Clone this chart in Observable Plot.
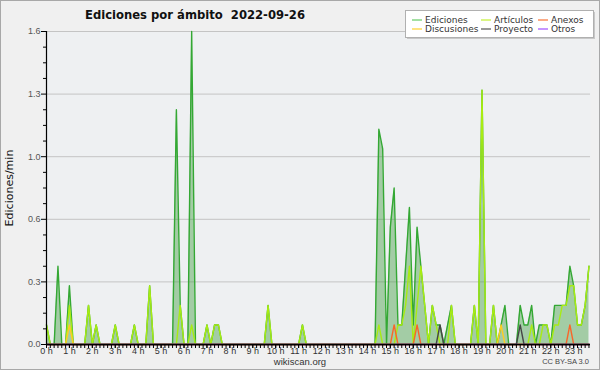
<!DOCTYPE html>
<html><head><meta charset="utf-8">
<script src="https://cdn.jsdelivr.net/npm/d3@7"></script>
<script src="https://cdn.jsdelivr.net/npm/@observablehq/plot@0.6"></script>
<style>
body{margin:0;background:#f0f0f0;}
#chart{width:600px;height:370px;}
</style></head><body><div id="chart"></div>
<script>
const titleText = "Ediciones por ámbito  2022-09-26";
const yLabelText = "Ediciones/min";
const footerText = "wikiscan.org";
const licenseText = "CC BY-SA 3.0";
const seriesNames = ["Ediciones","Artículos","Anexos","Discusiones","Proyecto","Otros"];
const seriesColors = ["#34a834","#a8ec12","#f8662a","#ffcc22","#464646","#9a44ff"];
const legendColors = ["#66cc66","#c4f032","#f87438","#ffd030","#555555","#a050ff"];
const hourLabels = ["0 h","1 h","2 h","3 h","4 h","5 h","6 h","7 h","8 h","9 h","10 h","11 h","12 h","13 h","14 h","15 h","16 h","17 h","18 h","19 h","20 h","21 h","22 h","23 h"];
const yTickValues = [0, 0.32, 0.64, 0.96, 1.28, 1.6];
const yMinorTicks = [0.08,0.16,0.24,0.40,0.48,0.56,0.72,0.80,0.88,1.04,1.12,1.20,1.36,1.44,1.52];
const binMinutes = 10;

// 10-minute bins, edits per minute (bins 0 .. 142)
const ediciones = [
0.1,0,0,0.4,0,0,0.3,0,0,0,
0,0.2,0,0.1,0,0,0,0,0.1,0,
0,0,0,0.1,0,0,0,0.3,0,0,
0,0,0,0,1.2,0.2,0,0,1.6,0,
0,0,0.1,0,0.1,0.1,0,0,0,0,
0,0,0,0,0,0,0,0,0.2,0,
0,0,0,0,0,0,0,0.1,0,0,
0,0,0,0,0,0,0,0,0,0,
0,0,0,0,0,0,0,1.1,1.0,0,
0.6,0.8,0.1,0.1,0.4,0.7,0.1,0.6,0.4,0.2,
0,0.2,0.1,0.1,0,0.1,0.2,0,0,0,
0,0,0.2,0,1.3,0,0,0.2,0,0.1,
0.2,0,0,0,0.2,0.1,0.1,0.2,0,0.1,
0.1,0.1,0,0.2,0.2,0.2,0.2,0.4,0.3,0.1,
0.1,0.2,0.4];
const articulos = [
0.1,0,0,0,0,0,0.2,0,0,0,
0,0.2,0,0.1,0,0,0,0,0.1,0,
0,0,0,0.1,0,0,0,0.3,0,0,
0,0,0,0,0,0.2,0,0,0.1,0,
0,0,0.1,0,0.1,0.1,0,0,0,0,
0,0,0,0,0,0,0,0,0.2,0,
0,0,0,0,0,0,0,0.1,0,0,
0,0,0,0,0,0,0,0,0,0,
0,0,0,0,0,0,0,0.1,0,0,
0,0,0.1,0.1,0.2,0.4,0,0.2,0.4,0.2,
0,0.2,0.1,0,0,0,0.2,0,0,0,
0,0,0.2,0,1.3,0,0,0.2,0,0,
0,0,0,0,0,0,0,0.1,0,0,
0.1,0.1,0,0.1,0.1,0.2,0.2,0.3,0.3,0.1,
0.1,0.2,0.4];
const anexos = [
0,0,0,0,0,0,0,0,0,0,
0,0,0,0,0,0,0,0,0,0,
0,0,0,0,0,0,0,0,0,0,
0,0,0,0,0,0,0,0,0,0,
0,0,0,0,0,0,0,0,0,0,
0,0,0,0,0,0,0,0,0,0,
0,0,0,0,0,0,0,0,0,0,
0,0,0,0,0,0,0,0,0,0,
0,0,0,0,0,0,0,0,0,0,
0,0.1,0,0,0,0,0,0.1,0,0,
0,0,0,0,0,0,0,0,0,0,
0,0,0,0,0,0,0,0,0,0,
0,0,0,0,0,0,0,0,0,0,
0,0,0,0,0,0,0,0.1,0,0,
0,0,0];
const discusiones = [
0,0,0,0,0,0,0.1,0,0,0,
0,0,0,0,0,0,0,0,0,0,
0,0,0,0,0,0,0,0,0,0,
0,0,0,0,0,0,0,0,0,0,
0,0,0,0,0,0,0,0,0,0,
0,0,0,0,0,0,0,0,0,0,
0,0,0,0,0,0,0,0,0,0,
0,0,0,0,0,0,0,0,0,0,
0,0,0,0,0,0,0,0,0,0,
0,0,0,0,0,0,0,0,0,0,
0,0,0,0,0,0,0,0,0,0,
0,0,0,0,0,0,0,0,0,0.1,
0,0,0,0,0,0,0,0,0,0,
0,0,0,0,0,0,0,0,0,0,
0,0,0];
const proyecto = [
0,0,0,0,0,0,0,0,0,0,
0,0,0,0,0,0,0,0,0,0,
0,0,0,0,0,0,0,0,0,0,
0,0,0,0,0,0,0,0,0,0,
0,0,0,0,0,0,0,0,0,0,
0,0,0,0,0,0,0,0,0,0,
0,0,0,0,0,0,0,0,0,0,
0,0,0,0,0,0,0,0,0,0,
0,0,0,0,0,0,0,0,0,0,
0,0,0,0,0,0,0,0,0,0,
0,0,0,0.1,0,0,0,0,0,0,
0,0,0,0,0,0,0,0,0,0,
0,0,0,0,0.1,0,0,0,0,0,
0,0,0,0,0,0,0,0,0,0,
0,0,0];
const otros = [
0,0,0,0,0,0,0,0,0,0,
0,0,0,0,0,0,0,0,0,0,
0,0,0,0,0,0,0,0,0,0,
0,0,0,0,0,0,0,0,0,0,
0,0,0,0,0,0,0,0,0,0,
0,0,0,0,0,0,0,0,0,0,
0,0,0,0,0,0,0,0,0,0,
0,0,0,0,0,0,0,0,0,0,
0,0,0,0,0,0,0,0,0,0,
0,0,0,0,0,0,0,0,0,0,
0,0,0,0,0,0,0,0,0,0,
0,0,0,0,0,0,0,0,0,0,
0,0,0,0,0,0,0,0,0,0,
0,0,0,0,0,0,0,0,0,0,
0,0,0];

const seriesValues = [ediciones, articulos, anexos, discusiones, proyecto, otros];
const rows = seriesValues.flatMap((vals, k) =>
  vals.map((v, i) => ({t: i * binMinutes / 60, v, s: seriesNames[k]})));
const totalRows = rows.filter(d => d.s === seriesNames[0]);

const xMax = 142.4 * binMinutes / 60;
const minorX = d3.range(0, 143).map(i => i * binMinutes / 60);
const hourTicks = hourLabels.map((_, h) => h);

const svg = Plot.plot({
  width: 600, height: 370,
  marginLeft: 46, marginRight: 10, marginTop: 31, marginBottom: 26,
  style: {background: "transparent", fontFamily: "Liberation Sans, sans-serif", fontSize: "9px", color: "#444"},
  x: {domain: [0, xMax]},
  y: {domain: [0, 1.6]},
  color: {domain: seriesNames, range: seriesColors},
  marks: [
    Plot.frame({fill: "#eef0f2", stroke: null}),
    Plot.gridY(yTickValues.slice(1), {stroke: "#c4c4c4", strokeOpacity: 1}),
    Plot.areaY(totalRows, {x: "t", y: "v", fill: "#3c9c3c", fillOpacity: 0.42}),
    Plot.line(rows, {x: "t", y: "v", z: "s", stroke: "s", strokeWidth: 1.4}),
    Plot.ruleY([0], {stroke: "#000", strokeWidth: 1.6}),
    Plot.ruleX([0], {stroke: "#000", strokeWidth: 1.2}),
    Plot.axisY({ticks: yTickValues, tickFormat: d3.format(".1f"), tickSize: 5, tickPadding: 1, label: null, stroke: "#000", fill: "#555"}),
    Plot.axisY({ticks: yMinorTicks, tickFormat: () => "", tickSize: 3, label: null, stroke: "#000"}),
    Plot.axisX({ticks: minorX, tickFormat: () => "", tickSize: 4, label: null, stroke: "#000"}),
    Plot.axisX({ticks: hourTicks, tickFormat: d => hourLabels[d], tickSize: 4, tickPadding: -1, label: null, stroke: "#000", fill: "#333", fontSize: 9})
  ]
});
document.getElementById("chart").appendChild(svg);

const s = d3.select(svg);
// border
s.append("rect").attr("x", 0.5).attr("y", 0.5).attr("width", 599).attr("height", 369)
  .attr("fill", "none").attr("stroke", "#a8a8a8");
// title
s.append("text").attr("x", 85).attr("y", 19).attr("text-anchor", "start").text(titleText)
  .attr("font-family", "DejaVu Sans, sans-serif").attr("font-weight", "bold").attr("font-size", 11.6).attr("fill", "#111");
// y label
s.append("text").attr("transform", "translate(13,188) rotate(-90)").attr("text-anchor", "middle")
  .text(yLabelText).attr("font-family", "DejaVu Sans, sans-serif").attr("font-size", 11).attr("fill", "#111");
// footer
s.append("text").attr("x", 300).attr("y", 365).attr("text-anchor", "middle").text(footerText)
  .attr("font-family", "Liberation Sans, sans-serif").attr("font-size", 9.5).attr("fill", "#333");
s.append("text").attr("x", 589).attr("y", 364).attr("text-anchor", "end").text(licenseText)
  .attr("font-family", "Liberation Sans, sans-serif").attr("font-size", 7.5).attr("fill", "#444");
// legend
const lg = s.append("g");
lg.append("rect").attr("x", 407).attr("y", 12).attr("width", 188).attr("height", 27).attr("fill", "#c8c8c8");
lg.append("rect").attr("x", 405.5).attr("y", 10.5).attr("width", 188).attr("height", 27)
  .attr("fill", "#fff").attr("stroke", "#b0b0b0");
const colX = [412, 481, 538];
const rowY = [20, 29];
seriesNames.forEach((name, k) => {
  const cx = colX[k % 3], cy = rowY[Math.floor(k / 3)];
  lg.append("line").attr("x1", cx).attr("x2", cx + 10).attr("y1", cy).attr("y2", cy)
    .attr("stroke", legendColors[k]).attr("stroke-width", 1.2);
  lg.append("text").attr("x", cx + 13).attr("y", cy + 3.3).attr("text-anchor", "start").text(name)
    .attr("font-family", "DejaVu Sans, sans-serif").attr("font-size", 9).attr("fill", "#333");
});
</script></body></html>
